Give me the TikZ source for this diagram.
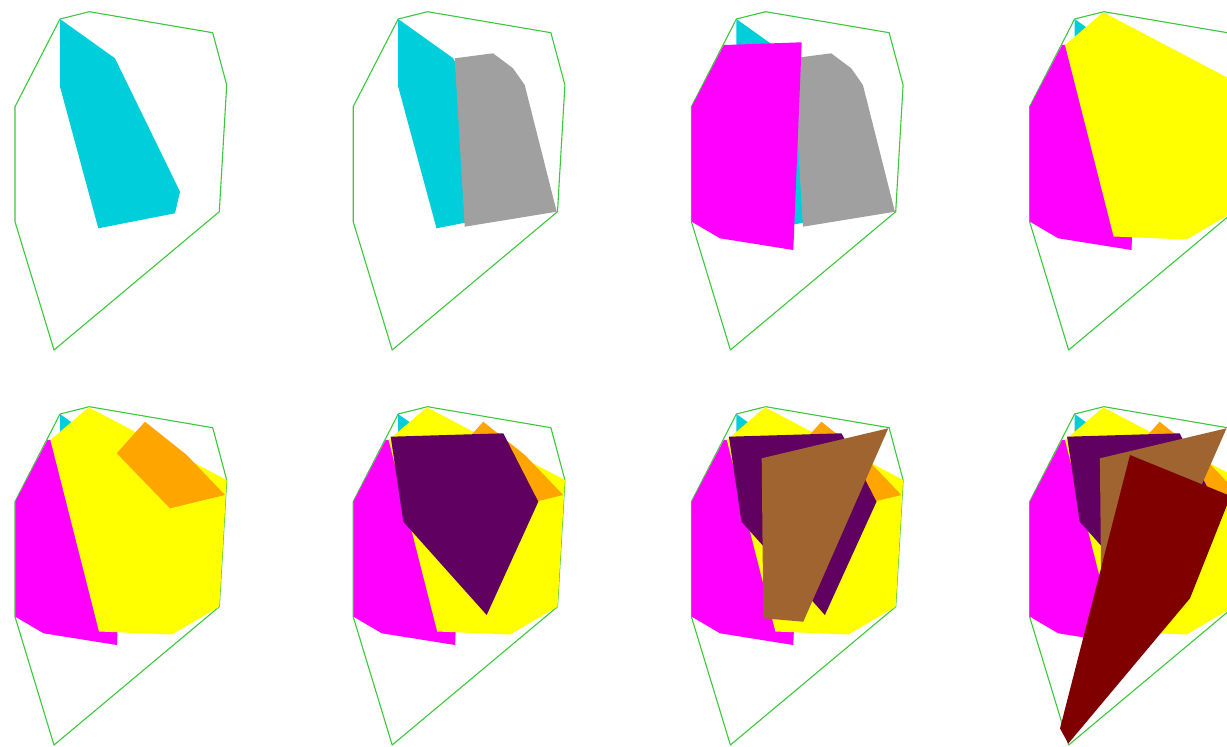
\documentclass[tikz,border=0pt]{standalone}
\definecolor{cyanC}{RGB}{0,206,219}
\definecolor{grayC}{RGB}{160,160,160}
\definecolor{magentaC}{RGB}{255,0,255}
\definecolor{yellowC}{RGB}{255,255,0}
\definecolor{orangeC}{RGB}{255,165,0}
\definecolor{purpleC}{RGB}{96,0,96}
\definecolor{brownC}{RGB}{160,100,48}
\definecolor{maroonC}{RGB}{128,0,0}
\definecolor{hullC}{RGB}{60,200,60}
\tikzset{
  hull/.style={draw=hullC, line width=1.1pt, line join=round},
  piece/.style={draw=none}
}
\begin{document}
\begin{tikzpicture}[x=1pt,y=-1pt]
\useasboundingbox[fill=white] (0,0) rectangle (1227,747);
\begin{scope}
\clip (0,0) rectangle (1227,747);
\foreach \n/\dx/\dy in {1/0/0,2/338.2/0,3/676.4/0,4/1014.6/0,5/0/395,6/338.2/395,7/676.4/395,8/1014.6/395}{
  \begin{scope}[shift={(\dx,\dy)}]
    \draw[hull] (60,19) -- (89.3,11.7) -- (212.7,32.7) -- (226.7,85) -- (219.3,211.7) -- (54,350) -- (15,221.7) -- (15,106.7) -- cycle;
    \fill[cyanC] (60,19) -- (115,58.3) -- (180,191.7) -- (175,213.3) -- (98.3,228.3) -- (60,86.7) -- cycle;
    \ifnum\n>1
      \fill[grayC] (116.5,58.3) -- (154.8,53.3) -- (174.8,68.3) -- (186.5,85) -- (218.5,211.7) -- (126.5,226.7) -- cycle;
    \fi
    \ifnum\n>2
      \fill[magentaC] (47.5,45) -- (125.3,42.3) -- (116.9,250) -- (43.6,238.3) -- (15.3,221.7) -- (15.3,106.7) -- cycle;
    \fi
    \ifnum\n>3
      \fill[yellowC] (50.4,45) -- (88.7,12.3) -- (226.7,85) -- (219.3,211.7) -- (172,239.5) -- (99,236.5) -- cycle;
    \fi
    \ifnum\n>4
      \fill[orangeC] (145,26.7) -- (186.7,60) -- (225,100) -- (170,113.3) -- (116.7,58.3) -- cycle;
    \fi
    \ifnum\n>5
      \fill[purpleC] (52.5,41.7) -- (165.1,38.3) -- (200.1,106.7) -- (148.5,220) -- (65.1,126.7) -- cycle;
    \fi
    \ifnum\n>6
      \fill[brownC] (85.3,63.3) -- (211.9,33.3) -- (126.9,226.7) -- (86.9,223.3) -- cycle;
    \fi
    \ifnum\n>7
      \fill[maroonC] (115.4,60) -- (216,101) -- (175.4,203.3) -- (53.7,348.5) -- (45.4,333.5) -- cycle;
    \fi
  \end{scope}
}
\end{scope}
\end{tikzpicture}
\end{document}
